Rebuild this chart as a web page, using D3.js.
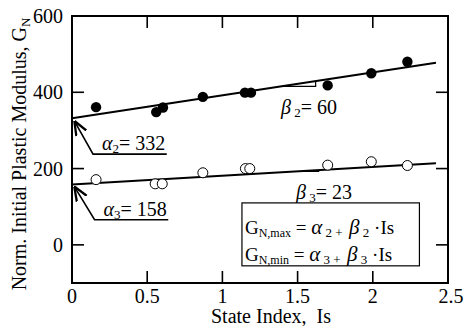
<!DOCTYPE html>
<html>
<head>
<meta charset="utf-8">
<script src="https://cdn.jsdelivr.net/npm/d3@7"></script>
<style>
  body { margin: 0; background: #fff; }
</style>
</head>
<body>
<div id="chart"></div>
<script>
// state index and normalized modulus
const isMax = [0.16, 0.56, 0.605, 0.87, 1.15, 1.19, 1.70, 1.99, 2.23]
const gMax = [361, 348, 360, 388, 399, 399, 418, 450, 480]
const isMin = [0.16, 0.553, 0.60, 0.87, 1.153, 1.182, 1.70, 1.99, 2.23]
const gMin = [171, 160, 160, 189, 200, 200, 209, 218, 208]

const alpha2 = 332, beta2 = 60
const alpha3 = 158, beta3 = 23
const fitRange = [0, 2.42]

const xTicks = [0, 0.5, 1, 1.5, 2, 2.5]
const yTicks = [0, 200, 400, 600]

const width = 464, height = 326
const margin = {top: 16, right: 16, bottom: 43, left: 72}
const yMin = -100, yMax = 600

const svg = d3.select('#chart').append('svg')
  .attr('width', width)
  .attr('height', height)
  .attr('font-family', 'Liberation Serif')

const x = d3.scaleLinear().domain([0, 2.5]).range([margin.left, width - margin.right])
const y = d3.scaleLinear().domain([yMin, yMax]).range([height - margin.bottom, margin.top])

// frame
svg.append('rect')
  .attr('x', x(0)).attr('y', y(yMax))
  .attr('width', x(2.5) - x(0)).attr('height', y(yMin) - y(yMax))
  .attr('fill', 'none').attr('stroke', '#000').attr('stroke-width', 2)

const tk = 12
const g = svg.append('g').attr('stroke', '#000').attr('stroke-width', 1.6)
xTicks.filter(d => d > 0 && d < 2.5).forEach(d => {
  g.append('line').attr('x1', x(d)).attr('x2', x(d)).attr('y1', y(yMin)).attr('y2', y(yMin) - tk)
  g.append('line').attr('x1', x(d)).attr('x2', x(d)).attr('y1', y(yMax)).attr('y2', y(yMax) + tk)
})
yTicks.filter(d => d < yMax).forEach(d => {
  g.append('line').attr('x1', x(0)).attr('x2', x(0) + tk).attr('y1', y(d)).attr('y2', y(d))
  g.append('line').attr('x1', x(2.5)).attr('x2', x(2.5) - tk).attr('y1', y(d)).attr('y2', y(d))
})

// tick labels
svg.append('g').selectAll('text').data(xTicks).enter().append('text')
  .attr('x', d => x(d) + (d === 2.5 ? 3 : 0)).attr('y', y(yMin) + 20)
  .attr('text-anchor', 'middle').attr('font-size', 20)
  .text(d => d)
svg.append('g').selectAll('text').data(yTicks).enter().append('text')
  .attr('x', x(0) - 9).attr('y', d => y(d) + 7)
  .attr('text-anchor', 'end').attr('font-size', 20)
  .text(d => d)

// axis titles
svg.append('text')
  .attr('x', 271).attr('y', 323)
  .attr('text-anchor', 'middle').attr('font-size', 20)
  .attr('xml:space', 'preserve')
  .text('State Index,  Is')

const yl = svg.append('text')
  .attr('transform', 'translate(26,154) rotate(-90)')
  .attr('text-anchor', 'middle').attr('font-size', 20)
yl.append('tspan').text('Norm. Initial Plastic Modulus, G')
yl.append('tspan').attr('font-size', 13).attr('dy', 4).text('N')

// fitted lines
const lines = [[alpha2, beta2], [alpha3, beta3]]
svg.append('g').selectAll('line').data(lines).enter().append('line')
  .attr('x1', x(fitRange[0])).attr('y1', d => y(d[0] + d[1] * fitRange[0]))
  .attr('x2', x(fitRange[1])).attr('y2', d => y(d[0] + d[1] * fitRange[1]))
  .attr('stroke', '#000').attr('stroke-width', 2)

// slope triangles
const tri = [[alpha2, beta2, 1.39, 1.62], [alpha3, beta3, 1.49, 1.64]]
svg.append('g').selectAll('path').data(tri).enter().append('path')
  .attr('d', d => {
    const y0 = y(d[0] + d[1] * d[2]), y1 = y(d[0] + d[1] * d[3])
    return `M${x(d[2])},${y0}H${x(d[3])}V${y1}`
  })
  .attr('fill', 'none').attr('stroke', '#000').attr('stroke-width', 1.2)

// points
svg.append('g').selectAll('circle').data(isMax.map((d, i) => [d, gMax[i]])).enter()
  .append('circle')
  .attr('cx', d => x(d[0])).attr('cy', d => y(d[1])).attr('r', 5.2)
  .attr('fill', '#000')
svg.append('g').selectAll('circle').data(isMin.map((d, i) => [d, gMin[i]])).enter()
  .append('circle')
  .attr('cx', d => x(d[0])).attr('cy', d => y(d[1])).attr('r', 5)
  .attr('fill', '#fff').attr('stroke', '#000').attr('stroke-width', 1)

// intercept arrows
const arrows = [
  {pts: [[0.02, 322], [0.14, 238], [0.63, 238]], label: ['\u03b1', '2', '= 332']},
  {pts: [[0.02, 150], [0.15, 66], [0.64, 66]], label: ['\u03b1', '3', '= 158']}
]
svg.append('defs').append('marker')
  .attr('id', 'ah').attr('viewBox', '0 0 10 10').attr('refX', 9).attr('refY', 5)
  .attr('markerWidth', 9).attr('markerHeight', 9).attr('orient', 'auto-start-reverse')
  .append('path').attr('d', 'M0,1L10,5L0,9').attr('fill', 'none').attr('stroke', '#000').attr('stroke-width', 1.6)

const lineGen = d3.line().x(d => x(d[0])).y(d => y(d[1]))
arrows.forEach(a => {
  svg.append('path')
    .attr('d', lineGen(a.pts))
    .attr('fill', 'none').attr('stroke', '#000').attr('stroke-width', 1.6)
    .attr('marker-start', 'url(#ah)')
  const t = svg.append('text')
    .attr('x', x(a.pts[1][0]) + 9).attr('y', y(a.pts[1][1]) - 4)
    .attr('font-size', 20)
  t.append('tspan').attr('font-style', 'italic').text(a.label[0])
  t.append('tspan').attr('font-size', 13).attr('dy', 3).text(a.label[1])
  t.append('tspan').attr('dy', -3).text(a.label[2])
})

// slope labels
const slopeLabels = [
  {xv: 1.39, yv: 344, sub: '2', txt: '= 60'},
  {xv: 1.49, yv: 120, sub: '3', txt: '= 23'}
]
slopeLabels.forEach(s => {
  const t = svg.append('text').attr('x', x(s.xv)).attr('y', y(s.yv)).attr('font-size', 20)
  t.append('tspan').attr('font-style', 'italic').text('\u03b2')
  t.append('tspan').attr('font-size', 13).attr('dy', 3).text(' ' + s.sub)
  t.append('tspan').attr('dy', -3).text(s.txt)
})

// equation box
const box = {x0: 1.13, x1: 2.31, y0: 110, y1: -55}
svg.append('rect')
  .attr('x', x(box.x0)).attr('y', y(box.y0))
  .attr('width', x(box.x1) - x(box.x0)).attr('height', y(box.y1) - y(box.y0))
  .attr('fill', '#fff').attr('stroke', '#000').attr('stroke-width', 1.2)

const eqs = [['N,max', '2'], ['N,min', '3']]
eqs.forEach((e, i) => {
  const t = svg.append('text')
    .attr('x', x(box.x0) + 3).attr('y', y(box.y0) + 31 + i * 27)
    .attr('font-size', 19).attr('xml:space', 'preserve')
  t.append('tspan').text('G')
  t.append('tspan').attr('font-size', 12).attr('dy', 3).text(e[0])
  t.append('tspan').attr('dy', -3).text(' = ')
  t.append('tspan').attr('font-style', 'italic').attr('font-size', 21).text('\u03b1')
  t.append('tspan').attr('font-size', 13).attr('dy', 3).text(' ' + e[1] + ' +  ')
  t.append('tspan').attr('dy', -3).attr('font-style', 'italic').attr('font-size', 21).text('\u03b2')
  t.append('tspan').attr('font-size', 13).attr('dy', 3).text(' ' + e[1])
  t.append('tspan').attr('dy', -3).text(' \u00b7Is')
})
</script>
</body>
</html>
